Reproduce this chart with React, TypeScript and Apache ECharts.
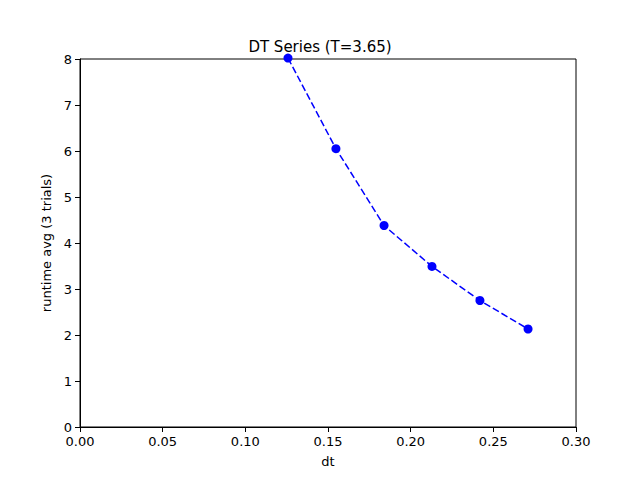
import React, { useEffect, useRef } from "react";
import * as echarts from "echarts";

const dtValues = [0.1258, 0.1548, 0.1839, 0.2129, 0.2419, 0.271];
const runtimeValues = [8.02, 6.05, 4.38, 3.49, 2.75, 2.13];
const titleText = "DT Series (T=3.65)";

export default function App() {
  const ref = useRef<HTMLDivElement>(null);
  useEffect(() => {
    const chart = echarts.init(ref.current!, null, { renderer: "svg" });
    const font = "DejaVu Sans";
    chart.setOption({
      animation: false,
      backgroundColor: "#fff",
      title: {
        text: titleText, left: "center", top: 34,
        textStyle: { fontFamily: font, fontSize: 15, fontWeight: "normal", color: "#000" },
      },
      grid: { left: 80, right: 64, top: 59, bottom: 53, show: true, borderColor: "#000", borderWidth: 1 },
      xAxis: {
        type: "value", min: 0, max: 0.3, interval: 0.05, name: "dt", nameLocation: "middle", nameGap: 28,
        nameTextStyle: { fontFamily: font, fontSize: 13, color: "#000" },
        axisLine: { show: true, lineStyle: { color: "#000" } },
        axisTick: { show: true, inside: false, length: 5, lineStyle: { color: "#000" } },
        axisLabel: { fontFamily: font, fontSize: 13, color: "#000", formatter: (v: number) => v.toFixed(2) },
        splitLine: { show: false },
      },
      yAxis: {
        type: "value", min: 0, max: 8, interval: 1, name: "runtime avg (3 trials)", nameLocation: "middle", nameGap: 24,
        nameTextStyle: { fontFamily: font, fontSize: 13, color: "#000" },
        axisLine: { show: true, lineStyle: { color: "#000" } },
        axisTick: { show: true, inside: false, length: 5, lineStyle: { color: "#000" } },
        axisLabel: { fontFamily: font, fontSize: 13, color: "#000" },
        splitLine: { show: false },
      },
      series: [{
        type: "line",
        data: dtValues.map((d, i) => [d, runtimeValues[i]]),
        symbol: "circle", symbolSize: 9,
        itemStyle: { color: "#0000ff" },
        lineStyle: { color: "#0000ff", type: [7, 3], width: 1.5 },
        clip: false,
      }],
    });
    return () => chart.dispose();
  }, []);
  return <div ref={ref} style={{ position: "absolute", left: 0, top: 0, width: 640, height: 480 }} />;
}
